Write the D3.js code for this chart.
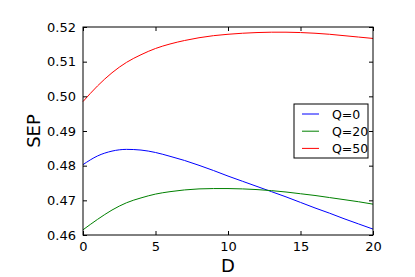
<!DOCTYPE html>
<html><head><meta charset="utf-8">
<script src="https://cdn.jsdelivr.net/npm/d3@7"></script>
<style>body{margin:0;background:#fff}svg{display:block}text{font-family:"DejaVu Sans",sans-serif}</style>
</head><body><svg id="c" width="415" height="277"></svg>
<script>
const D = [0,1,2,3,4,5,6,7,8,9,10,11,12,13,14,15,16,17,18,19,20];
const q0 = [0.4803,0.4828,0.4842,0.4847,0.4845,0.4838,0.4827,0.4815,0.4801,0.4786,0.4770,0.4755,0.4740,0.4725,0.4710,0.4694,0.4678,0.4663,0.4647,0.4632,0.4617];
const q20 = [0.4615,0.4645,0.4672,0.4693,0.4707,0.4718,0.4725,0.4730,0.4733,0.4734,0.4734,0.4733,0.4731,0.4728,0.4724,0.4719,0.4714,0.4708,0.4702,0.4696,0.4689];
const q50 = [0.4985,0.5030,0.5068,0.5098,0.5120,0.5138,0.5151,0.5161,0.5169,0.5175,0.5179,0.5182,0.5184,0.5185,0.5185,0.5184,0.5182,0.5179,0.5175,0.5171,0.5167];
const seriesNames = ["Q=0","Q=20","Q=50"];
const seriesColors = ["#0000ff","#008000","#ff0000"];
const xTicks = [0,5,10,15,20];
const yTicks = [0.46,0.47,0.48,0.49,0.50,0.51,0.52];

const svg = d3.select("#c");
const L=83, R=373, T=27, B=235;
const x = d3.scaleLinear().domain([0,20]).range([L,R]);
const y = d3.scaleLinear().domain([0.46,0.52]).range([B,T]);

const series=[q0,q20,q50];
const line = d3.line().x((d,i)=>x(D[i])).y(d=>y(d)).curve(d3.curveMonotoneX);
series.forEach((s,k)=>{
  svg.append("path").datum(s).attr("d",line).attr("fill","none")
    .attr("stroke",seriesColors[k]).attr("stroke-width",1);
});

const fs=13;
const gb = svg.append("g").attr("transform",`translate(0,${B})`)
  .call(d3.axisBottom(x).tickValues(xTicks).tickSizeInner(-4).tickSizeOuter(0).tickPadding(7).tickFormat(d3.format("d")));
const gt = svg.append("g").attr("transform",`translate(0,${T})`)
  .call(d3.axisTop(x).tickValues(xTicks).tickSizeInner(-4).tickSizeOuter(0).tickFormat(""));
const gl = svg.append("g").attr("transform",`translate(${L},0)`)
  .call(d3.axisLeft(y).tickValues(yTicks).tickSizeInner(-4).tickSizeOuter(0).tickPadding(7).tickFormat(d3.format(".2f")));
const gr = svg.append("g").attr("transform",`translate(${R},0)`)
  .call(d3.axisRight(y).tickValues(yTicks).tickSizeInner(-4).tickSizeOuter(0).tickFormat(""));
[gb,gt,gl,gr].forEach(g=>{
  g.select(".domain").remove();
  g.selectAll("line").attr("stroke","#000");
  g.selectAll("text").attr("font-size",fs).attr("fill","#000").attr("font-family","DejaVu Sans");
});
svg.append("rect").attr("x",L).attr("y",T).attr("width",R-L).attr("height",B-T)
  .attr("fill","none").attr("stroke","#000").attr("stroke-width",1);

svg.append("text").attr("x",(L+R)/2).attr("y",272).attr("text-anchor","middle")
  .attr("font-size",18).text("D");
svg.append("text").attr("transform",`translate(40,${(T+B)/2}) rotate(-90)`).attr("text-anchor","middle")
  .attr("font-size",18).text("SEP");

const lg = svg.append("g");
lg.append("rect").attr("x",294).attr("y",104).attr("width",74).attr("height",54)
  .attr("fill","#fff").attr("stroke","#000").attr("stroke-width",1);
seriesNames.forEach((n,k)=>{
  const cy = 114 + k*17.2;
  lg.append("line").attr("x1",302).attr("x2",319).attr("y1",cy).attr("y2",cy)
    .attr("stroke",seriesColors[k]).attr("stroke-width",1);
  lg.append("text").attr("x",332).attr("y",cy+4.5).attr("font-size",12.5).text(n);
});
</script></body></html>
